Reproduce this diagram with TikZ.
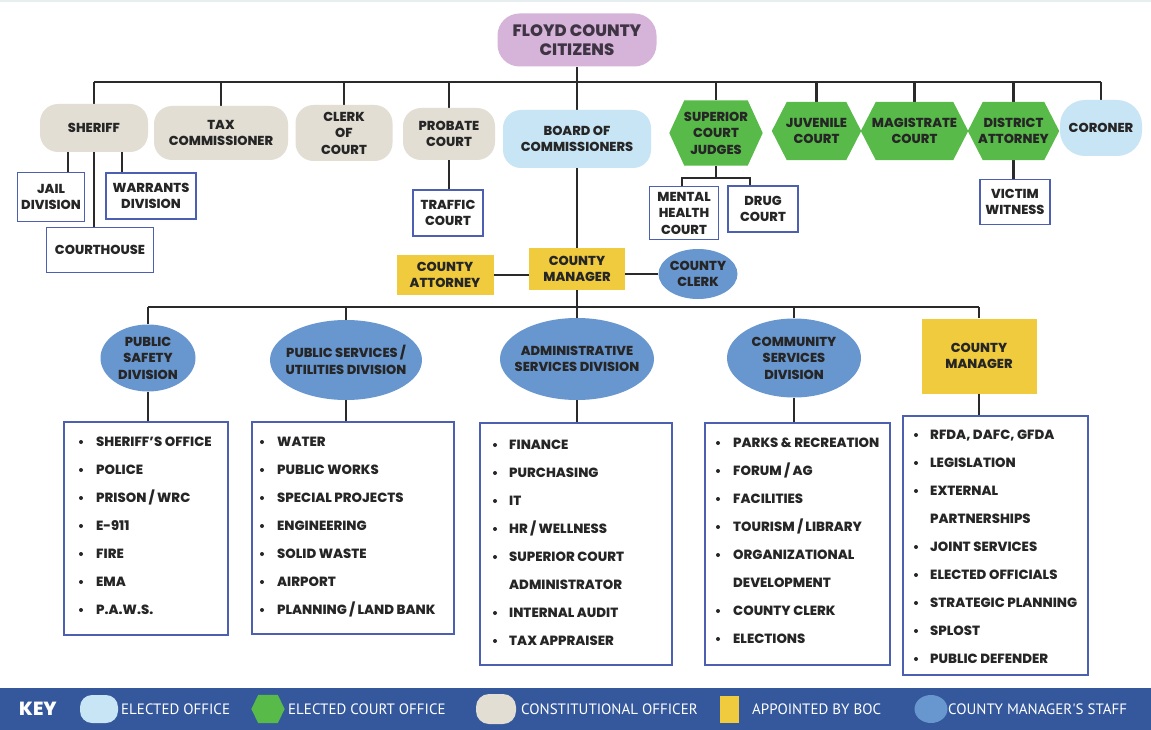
\documentclass[tikz,border=0pt]{standalone}
\usepackage{fontspec}
\setmainfont{Poppins}[BoldFont={Poppins ExtraBold}]
\newfontfamily\keyfont{PT Sans}
\usetikzlibrary{shapes.geometric,shapes.misc,backgrounds}
\definecolor{citc}{HTML}{D6B3D8}
\definecolor{beige}{HTML}{E2DED4}
\definecolor{lblue}{HTML}{C8E5F6}
\definecolor{grn}{HTML}{58BA49}
\definecolor{yel}{HTML}{F0CB3E}
\definecolor{dblue}{HTML}{6896CF}
\definecolor{bord}{HTML}{4C5FB1}
\definecolor{keybg}{HTML}{34589B}
\definecolor{ink}{HTML}{262626}
\definecolor{citink}{HTML}{3E3444}
\definecolor{connc}{HTML}{2A2A2A}
\definecolor{topline}{HTML}{E6EEF0}
\newcommand\hexfill[3]{\fill[#2] (#1.west) -- ([xshift=#3]#1.north west) -- ([xshift=-#3]#1.north east) -- (#1.east) -- ([xshift=-#3]#1.south east) -- ([xshift=#3]#1.south west) -- cycle;}
\tikzset{
 lbl/.style={align=center, text=ink, inner sep=0pt, font=\fontsize{13}{16.5}\selectfont\bfseries},
 pill/.style={lbl, rectangle, rounded corners=18pt},
 beigepill/.style={pill, fill=beige},
 bluepill/.style={pill, fill=lblue},
 hexn/.style={lbl, rectangle},
 subbox/.style={lbl, rectangle, fill=white, draw=bord, line width=1.6pt},
 appt/.style={lbl, rectangle, fill=yel},
 staff/.style={lbl, ellipse, fill=dblue, inner xsep=-30pt, inner ysep=-10pt},
 listbox/.style={rectangle, fill=white, draw=bord, line width=1.6pt, inner sep=0pt},
 item/.style={text=ink, inner sep=0pt, font=\fontsize{13.3}{15}\selectfont\bfseries, anchor=base west},
 conn/.style={draw=connc, line width=2.4pt},
 keytxt/.style={text=white, inner sep=0pt, font=\keyfont\fontsize{15}{16}\selectfont, anchor=west},
}
\begin{document}
\begin{tikzpicture}[x=1pt,y=-1pt]
\useasboundingbox (0,0) rectangle (1151,730);

% top
\node[pill, fill=citc, rounded corners=22pt, minimum width=159pt, minimum height=53pt, text=citink, font=\fontsize{16.5}{19}\selectfont\bfseries] (cit) at (577,40) {FLOYD COUNTY\\CITIZENS};

\node[beigepill, minimum width=108pt, minimum height=48pt] (sheriff) at (94,128) {SHERIFF};
\node[beigepill, minimum width=134pt, minimum height=54pt] (tax) at (221,133) {TAX\\COMMISSIONER};
\node[beigepill, minimum width=97pt, minimum height=56pt] (clerk) at (344,133) {CLERK\\OF\\COURT};
\node[beigepill, minimum width=92pt, minimum height=52pt] (probate) at (449,134) {PROBATE\\COURT};
\node[bluepill, minimum width=148pt, minimum height=58pt] (board) at (577,139) {BOARD OF\\COMMISSIONERS};
\node[hexn, minimum width=93pt, minimum height=65pt] (superior) at (716,133) {SUPERIOR\\COURT\\JUDGES};
\node[hexn, minimum width=89pt, minimum height=58pt] (juvenile) at (816.5,131) {JUVENILE\\COURT};
\node[hexn, minimum width=107pt, minimum height=58pt] (magistrate) at (914.5,131) {MAGISTRATE\\COURT};
\node[hexn, minimum width=91pt, minimum height=58pt] (district) at (1013.5,131) {DISTRICT\\ATTORNEY};
\node[bluepill, rounded corners=25pt, minimum width=82pt, minimum height=56pt] (coroner) at (1101,128) {CORONER};

% sub boxes
\node[subbox, minimum width=67pt, minimum height=49pt] (jail) at (51,197) {JAIL\\DIVISION};
\node[subbox, minimum width=90pt, minimum height=46pt] (warrants) at (151,196) {WARRANTS\\DIVISION};
\node[subbox, minimum width=107pt, minimum height=45pt] (courthouse) at (100,250) {COURTHOUSE};
\node[subbox, minimum width=70pt, minimum height=46pt] (traffic) at (448,213) {TRAFFIC\\COURT};
\node[subbox, minimum width=69pt, minimum height=53pt] (mental) at (684,213) {MENTAL\\HEALTH\\COURT};
\node[subbox, minimum width=70pt, minimum height=46pt] (drug) at (763,209) {DRUG\\COURT};
\node[subbox, minimum width=70pt, minimum height=45pt] (victim) at (1015,202) {VICTIM\\WITNESS};

% manager row
\node[appt, minimum width=97pt, minimum height=40pt] (cattorney) at (445,275) {COUNTY\\ATTORNEY};
\node[appt, minimum width=96pt, minimum height=42pt] (cmgr) at (577,269) {COUNTY\\MANAGER};
\node[staff, minimum width=79pt, minimum height=50pt] (cclerk) at (698,274) {COUNTY\\CLERK};

% divisions
\node[staff, minimum width=95pt, minimum height=67pt] (psd) at (148,358) {PUBLIC\\SAFETY\\DIVISION};
\node[staff, minimum width=152pt, minimum height=80pt] (pud) at (346,360) {PUBLIC SERVICES /\\UTILITIES DIVISION};
\node[staff, minimum width=154pt, minimum height=82pt] (asd) at (577,359) {ADMINISTRATIVE\\SERVICES DIVISION};
\node[staff, minimum width=134pt, minimum height=79pt] (csd) at (794,358) {COMMUNITY\\SERVICES\\DIVISION};
\node[appt, minimum width=115pt, minimum height=75pt] (cm2) at (979,356) {COUNTY\\MANAGER};

% list boxes
\node[listbox, minimum width=164pt, minimum height=213pt] (L1) at (146,528.5) {};
\node[listbox, minimum width=202pt, minimum height=212pt] (L2) at (353,528) {};
\node[listbox, minimum width=192pt, minimum height=242pt] (L3) at (576,544) {};
\node[listbox, minimum width=185pt, minimum height=242pt] (L4) at (797.5,544) {};
\node[listbox, minimum width=185pt, minimum height=259pt] (L5) at (995.5,545.5) {};

\foreach[count=\i] \t in {SHERIFF'S OFFICE, POLICE, PRISON / WRC, E-911, FIRE, EMA, P.A.W.S.}
  \node[item] (la-\i) at ({96},{446.5+28*(\i-1)}) {\t};
\foreach \i in {1,...,7} \fill[ink] ({81},{442+28*(\i-1)}) circle (2);

\foreach[count=\i] \t in {WATER, PUBLIC WORKS, SPECIAL PROJECTS, ENGINEERING, SOLID WASTE, AIRPORT, PLANNING / LAND BANK}
  \node[item] (lb-\i) at ({277},{446.5+28*(\i-1)}) {\t};
\foreach \i in {1,...,7} \fill[ink] ({262},{442+28*(\i-1)}) circle (2);

\foreach[count=\i] \t in {FINANCE, PURCHASING, IT, HR / WELLNESS, SUPERIOR COURT, ADMINISTRATOR, INTERNAL AUDIT, TAX APPRAISER}
  \node[item] (lc-\i) at ({509},{449.5+28*(\i-1)}) {\t};
\foreach \i in {1,2,3,4,5,7,8} \fill[ink] ({495},{445+28*(\i-1)}) circle (2);

\foreach[count=\i] \t in {PARKS \& RECREATION, FORUM / AG, FACILITIES, TOURISM / LIBRARY, ORGANIZATIONAL, DEVELOPMENT, COUNTY CLERK, ELECTIONS}
  \node[item] (ld-\i) at ({733},{447.5+28*(\i-1)}) {\t};
\foreach \i in {1,2,3,4,5,7,8} \fill[ink] ({718},{443+28*(\i-1)}) circle (2);

\foreach[count=\i] \t in {{RFDA, DAFC, GFDA}, LEGISLATION, EXTERNAL, PARTNERSHIPS, JOINT SERVICES, ELECTED OFFICIALS, STRATEGIC PLANNING, SPLOST, PUBLIC DEFENDER}
  \node[item] (le-\i) at ({930},{439.5+28*(\i-1)}) {\t};
\foreach \i in {1,2,3,5,6,7,8,9} \fill[ink] ({916},{435+28*(\i-1)}) circle (2);

\coordinate (bus) at (577,82);
\coordinate (bus2) at (577,307);
\coordinate (sj) at (716,178);

\begin{scope}[on background layer]
\fill[white] (0,0) rectangle (1151,730);
\fill[topline] (0,0) rectangle (1151,2);
\draw[conn] (sheriff.north |- bus) -- (coroner.north |- bus);
\draw[conn] (cit.south) -- (bus);
\foreach \n in {sheriff,tax,clerk,probate,superior,juvenile,magistrate,district,coroner}
  \draw[conn] (\n.north) -- (\n.north |- bus);
\draw[conn] (bus) -- (cmgr.north);
\draw[conn] ([xshift=-26pt]sheriff.south) -- ([xshift=-26pt]sheriff.south |- jail.north);
\draw[conn] ([xshift=28pt]sheriff.south) -- ([xshift=28pt]sheriff.south |- warrants.north);
\draw[conn] (sheriff.south) -- (sheriff.south |- courthouse.north);
\draw[conn] (probate.south) -- (probate.south |- traffic.north);
\draw[conn] (superior.south) -- (sj);
\draw[conn] ([xshift=-2pt]mental.north) -- ([xshift=-2pt]mental.north |- sj) -- ([xshift=-13pt]drug.north |- sj) -- ([xshift=-13pt]drug.north);
\draw[conn] (district.south) -- (district.south |- victim.north);
\draw[conn] (cattorney.east) -- (cattorney.east -| cmgr.west);
\draw[conn] (cclerk.west) -- (cclerk.west -| cmgr.east);
\draw[conn] (cmgr.south) -- (bus2);
\draw[conn] (psd.north |- bus2) -- (cm2.north |- bus2);
\foreach \n in {psd,pud,asd,csd,cm2}
  \draw[conn] (\n.north) -- (\n.north |- bus2);
\draw[conn] (psd.south) -- (psd.south |- L1.north);
\draw[conn] (pud.south) -- (pud.south |- L2.north);
\draw[conn] (asd.south) -- (asd.south |- L3.north);
\draw[conn] (csd.south) -- (csd.south |- L4.north);
\draw[conn] (cm2.south) -- (cm2.south |- L5.north);
\hexfill{superior}{grn}{15pt}
\hexfill{juvenile}{grn}{15pt}
\hexfill{magistrate}{grn}{15pt}
\hexfill{district}{grn}{15pt}
\end{scope}

% key
\fill[keybg] (0,688) rectangle (1151,730);
\node[text=white, inner sep=0pt, font=\fontsize{19}{20}\selectfont\bfseries] (keyt) at (38,709) {KEY};
\node[rectangle, rounded corners=12pt, fill=lblue, minimum width=38pt, minimum height=28pt] (k1) at (99,709) {};
\node[keytxt] (k1t) at (121,709) {ELECTED OFFICE};
\node[rectangle, minimum width=33pt, minimum height=28pt, inner sep=0pt] (k2) at (268,709) {};
\hexfill{k2}{grn}{7pt}
\node[keytxt] (k2t) at (288,709) {ELECTED COURT OFFICE};
\node[rectangle, rounded corners=13pt, fill=beige, minimum width=40pt, minimum height=30pt] (k3) at (496,709) {};
\node[keytxt] (k3t) at (521,709) {CONSTITUTIONAL OFFICER};
\node[rectangle, fill=yel, minimum width=19pt, minimum height=27pt, inner sep=0pt] (k4) at (729,709) {};
\node[keytxt] (k4t) at (752,709) {APPOINTED BY BOC};
\node[ellipse, fill=dblue, minimum width=33pt, minimum height=28pt, inner sep=0pt] (k5) at (931,709) {};
\node[keytxt] (k5t) at (948,709) {COUNTY MANAGER'S STAFF};
\end{tikzpicture}
\end{document}
